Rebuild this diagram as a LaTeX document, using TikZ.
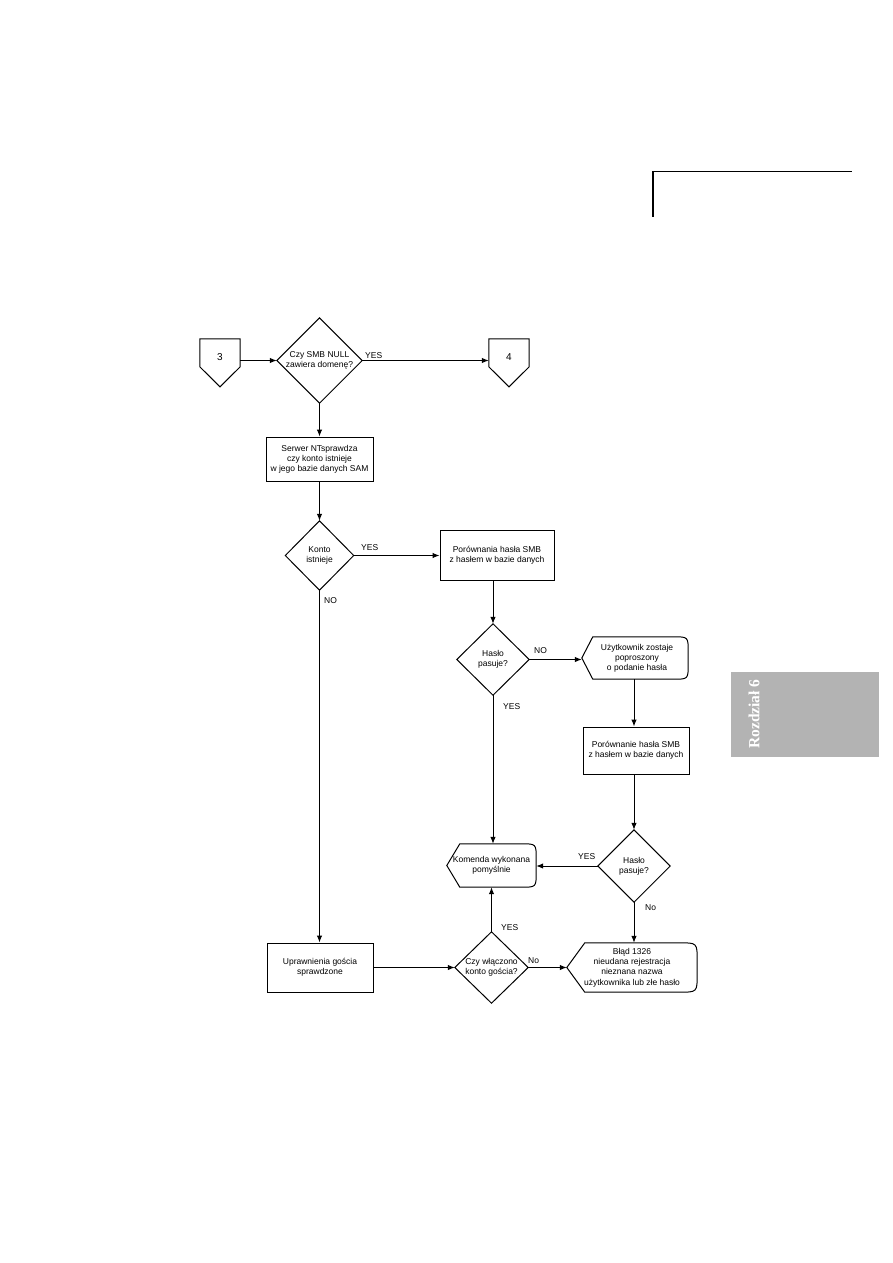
\documentclass[tikz,border=0pt]{standalone}
\usepackage{fontspec}
\setmainfont{Liberation Sans}
\newfontfamily\tabfont{Liberation Serif}
\usetikzlibrary{arrows.meta,calc}
\definecolor{tabgray}{HTML}{B3B3B3}
\tikzset{
  lbl/.style={font=\fontsize{8.5}{10.2}\selectfont, align=center, inner sep=0pt},
  shp/.style={lbl, draw=none, minimum width=#1},
  boxn/.style={lbl, draw, line width=1pt},
  edge/.style={line width=1pt, -{Latex[length=7pt,width=5.5pt]}},
  outline/.style={line width=1pt},
  tag/.style={font=\fontsize{8.5}{10}\selectfont, inner sep=0pt, anchor=west}
}
\newcommand\dispshape[3]{%
  \draw[outline] (#1.west) -- ($(#1.north west)+(#2,0)$) -- ($(#1.north east)+(-#3,0)$)
    .. controls (#1.north east) .. ($(#1.north east)+(0,#3)$)
    -- ($(#1.south east)+(0,-#3)$)
    .. controls (#1.south east) .. ($(#1.south east)+(-#3,0)$)
    -- ($(#1.south west)+(#2,0)$) -- cycle;}
\newcommand\pentshape[1]{%
  \draw[outline] (#1.north west) -- (#1.north east) -- ($(#1.north east)+(0,28)$)
    -- ($(#1.north)+(0,48)$) -- ($(#1.north west)+(0,28)$) -- cycle;}
\begin{document}
\begin{tikzpicture}[x=1pt,y=-1pt]
\useasboundingbox (0,0) rectangle (893,1263);

% page decorations
\draw[line width=1pt] (653,171) -- (852,171);
\draw[line width=2pt] (653,171) -- (653,217);
\fill[tabgray] (731,672) rectangle (879,757);
\node[rotate=90, text=white, inner sep=0pt, font=\tabfont\bfseries\fontsize{15.5}{17}\selectfont] (tab) at (754,714) {Rozdział 6};

% off-page connectors
\node[shp=40, minimum height=36] (p3) at (220,357) {\fontsize{10}{12}\selectfont 3};
\pentshape{p3}
\node[shp=40, minimum height=36] (p4) at (509,357) {\fontsize{10}{12}\selectfont 4};
\pentshape{p4}

% diamonds
\node[shp=85, minimum height=85] (d1) at (319.5,360.5) {Czy SMB NULL\\zawiera domenę?};
\node[shp=68, minimum height=69] (d2) at (319.5,555.5) {Konto\\istnieje};
\node[shp=72, minimum height=71] (d3) at (493,659.5) {Hasło\\pasuje?};
\node[shp=72, minimum height=72] (d4) at (634,866) {Hasło\\pasuje?};
\node[shp=73, minimum height=71] (d5) at (491.5,967.5) {Czy włączono\\konto gościa?};
\foreach \d in {d1,d2,d3,d4,d5}
  \draw[outline] (\d.north) -- (\d.east) -- (\d.south) -- (\d.west) -- cycle;

% boxes
\node[boxn, minimum width=107, minimum height=44] (serwer) at (319.5,459) {Serwer NTsprawdza\\czy konto istnieje\\w jego bazie danych SAM};
\node[boxn, minimum width=114, minimum height=50] (box2) at (497,555) {Porównania hasła SMB\\z hasłem w bazie danych};
\node[boxn, minimum width=106, minimum height=47] (box3) at (636,750.5) {Porównanie hasła SMB\\z hasłem w bazie danych};
\node[boxn, minimum width=106, minimum height=49] (box4) at (320,967.5) {Uprawnienia gościa\\sprawdzone};

% display shapes
\node[shp=106, minimum height=42] (disp) at (635,658) {\hspace{4pt}Użytkownik zostaje\\\hspace{4pt}poproszony\\\hspace{4pt}o podanie hasła};
\dispshape{disp}{11}{15}
\node[shp=89, minimum height=43] (kom) at (491.5,865.5) {Komenda wykonana\\pomyślnie};
\dispshape{kom}{13}{15}
\node[shp=130, minimum height=49] (blad) at (632,967.5) {Błąd 1326\\nieudana rejestracja\\nieznana nazwa\\użytkownika lub złe hasło};
\dispshape{blad}{18}{18}

% connectors
\draw[edge] (p3.east |- d1.west) -- (d1.west);
\draw[edge] (d1.east) -- (p4.west |- d1.east);
\draw[edge] (d1.south) -- (d1.south |- serwer.north);
\draw[edge] (serwer.south -| d2.north) -- (d2.north);
\draw[edge] (d2.east) -- (box2.west |- d2.east);
\draw[edge] (d2.south) -- (d2.south |- box4.north);
\draw[edge] (box2.south -| d3.north) -- (d3.north);
\draw[edge] (d3.east) -- (disp.west |- d3.east);
\draw[edge] (disp.south -| d4.north) -- (box3.north -| d4.north);
\draw[edge] (box3.south -| d4.north) -- (d4.north);
\draw[edge] (d3.south) -- (d3.south |- kom.north);
\draw[edge] (d4.west) -- (kom.east |- d4.west);
\draw[edge] (d4.south) -- (d4.south |- blad.north);
\draw[edge] (d5.north) -- (d5.north |- kom.south);
\draw[edge] (box4.east) -- (d5.west);
\draw[edge] (d5.east) -- (blad.west);

% branch labels
\node[tag] (y1) at (365,356) {YES};
\node[tag] (y2) at (361,548) {YES};
\node[tag] (n2) at (324,601) {NO};
\node[tag] (n3) at (534,651) {NO};
\node[tag] (y3) at (503,707) {YES};
\node[tag] (y4) at (578,857) {YES};
\node[tag] (n4) at (645,908) {No};
\node[tag] (y5) at (501,928) {YES};
\node[tag] (n5) at (528,961) {No};
\end{tikzpicture}
\end{document}
